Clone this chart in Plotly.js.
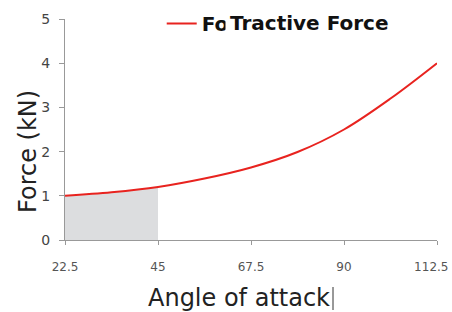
<!DOCTYPE html>
<html><head><meta charset="utf-8">
<script src="https://cdn.plot.ly/plotly-3.0.1.min.js"></script>
<style>html,body{margin:0;padding:0;background:#fff}</style>
</head><body><div id="chart" style="width:452px;height:312px"></div>
<script>
const angles = [22.5, 33.75, 45, 56.25, 67.5, 78.75, 90, 101.25, 112.5];
const force = [1.0, 1.08, 1.2, 1.39, 1.64, 1.99, 2.5, 3.2, 4.0];
const shadeAngles = [22.5, 33.75, 45];
const shadeForce = [1.0, 1.08, 1.2];
const xTicks = [22.5, 45, 67.5, 90, 112.5];
const xTickLabels = ['22.5', '45', '67.5', '90', '112.5\u00a0\u00a0\u00a0'];
const yTicks = [0, 1, 2, 3, 4, 5];

const fam = '"DejaVu Sans", sans-serif';
const data = [
  {x: shadeAngles, y: shadeForce, type: 'scatter', mode: 'none', fill: 'tozeroy',
   fillcolor: '#dcdddf', line: {shape: 'spline', smoothing: 1}, showlegend: false, hoverinfo: 'skip'},
  {x: angles, y: force, type: 'scatter', mode: 'lines', name: 'Force',
   line: {color: '#e8231f', width: 2, shape: 'spline', smoothing: 1}}
];
const layout = {
  width: 452, height: 312,
  margin: {l: 65, r: 15, t: 19, b: 72, autoexpand: false},
  paper_bgcolor: '#fff', plot_bgcolor: '#fff',
  showlegend: true,
  legend: {x: 0.26, y: 0.98, xanchor: 'left', yanchor: 'middle', bgcolor: 'rgba(0,0,0,0)',
    font: {family: fam, size: 20, color: '#111', weight: 'bold'},
    itemwidth: 30},
  xaxis: {range: [22.5, 112.5], tickvals: xTicks, ticktext: xTickLabels,
    showgrid: false, zeroline: false, showline: true, linecolor: '#999', linewidth: 1,
    ticks: 'outside', ticklen: 4, tickcolor: '#999', ticklabeloverflow: 'allow',
    tickfont: {family: fam, size: 12, color: '#555'}, ticklabelstandoff: 12},
  yaxis: {range: [0, 5], tickvals: yTicks,
    showgrid: false, zeroline: false, showline: true, linecolor: '#999', linewidth: 1,
    ticks: 'outside', ticklen: 5, tickcolor: '#999',
    tickfont: {family: fam, size: 14, color: '#444'}, ticklabelstandoff: 6},
  annotations: [
    {text: '<b>Tractive Force</b>', xref: 'paper', yref: 'paper', x: 0.43, y: 0.98,
     xanchor: 'left', yanchor: 'middle', showarrow: false, bgcolor: '#fff', borderpad: 4,
     font: {family: fam, size: 20, color: '#111'}},
    {text: 'Angle of attack', xref: 'paper', yref: 'paper', x: (238.5 - 65) / 372, y: (240 - 298) / 221,
     xanchor: 'center', yanchor: 'middle', showarrow: false,
     font: {family: fam, size: 24, color: '#222'}},
    {text: 'Force (kN)', xref: 'paper', yref: 'paper', x: (28 - 65) / 372, y: (240 - 152) / 221,
     xanchor: 'center', yanchor: 'middle', showarrow: false, textangle: -90,
     font: {family: fam, size: 24, color: '#222'}}
  ],
  shapes: [
    {type: 'line', xref: 'paper', yref: 'paper', x0: (333 - 65) / 372, x1: (333 - 65) / 372,
     y0: (240 - 287) / 221, y1: (240 - 310) / 221, line: {color: '#333', width: 1}}
  ]
};
Plotly.newPlot('chart', data, layout, {displayModeBar: false, staticPlot: true});
</script></body></html>
